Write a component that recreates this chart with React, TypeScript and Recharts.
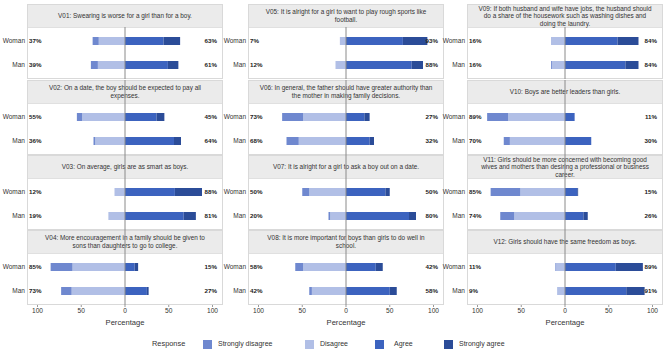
import React from 'react';
import { BarChart, Bar, XAxis, YAxis, ReferenceLine } from 'recharts';

// ---------- data ----------
const categories = ['Woman', 'Man'];

const questions = [
  'V01: Swearing is worse for a girl than for a boy.',
  'V02: On a date, the boy should be expected to pay all\nexpenses.',
  'V03: On average, girls are as smart as boys.',
  'V04: More encouragement in a family should be given to\nsons than daughters to go to college.',
  'V05: It is alright for a girl to want to play rough sports like\nfootball.',
  'V06: In general, the father should have greater authority than\nthe mother in making family decisions.',
  'V07: It is alright for a girl to ask a boy out on a date.',
  'V08: It is more important for boys than girls to do well in\nschool.',
  'V09: If both husband and wife have jobs, the husband should\ndo a share of the housework such as washing dishes and\ndoing the laundry.',
  'V10: Boys are better leaders than girls.',
  'V11: Girls should be more concerned with becoming good\nwives and mothers than desiring a professional or business\ncareer.',
  'V12: Girls should have the same freedom as boys.',
];

// values per question: [Woman, Man]
const stronglyDisagree = [
  [7, 8], [6, 2], [0, 0], [25, 12],
  [0, 0], [24, 14], [8, 2], [9, 3],
  [0, 1], [24, 7], [34, 16], [1, 0],
];
const disagree = [
  [30, 31], [49, 34], [12, 19], [60, 61],
  [7, 12], [49, 54], [42, 18], [49, 39],
  [16, 15], [65, 63], [51, 58], [10, 9],
];
const agree = [
  [44, 49], [36, 56], [57, 67], [11, 25],
  [65, 75], [21, 27], [45, 72], [34, 50],
  [60, 69], [11, 30], [14, 21], [58, 70],
];
const stronglyAgree = [
  [19, 12], [9, 8], [31, 14], [4, 2],
  [28, 13], [6, 5], [5, 8], [8, 8],
  [24, 15], [0, 0], [1, 5], [31, 21],
];

const xTicks = [-100, -50, 0, 50, 100];
const responses = ['Strongly disagree', 'Disagree', 'Agree', 'Strongly agree'];
const responseColors = ['#6f88cf', '#b1bfe6', '#3c63bf', '#2b4c98'];

// ---------- layout ----------
const COL_X = [27, 248, 467];
const ROW_TOP = [4, 80, 155, 230];
const PLOT_W = 196;
const YLAB_W = 27;
const HEADER_H = 23;
const PLOT_H = 52;
const AXIS_H = 30;
const FONT = '"Liberation Sans", Arial, Helvetica, sans-serif';

type Row = { sex: string; sd: number; d: number; a: number; sa: number; neg: number; pos: number };

function panelRows(i: number): Row[] {
  return categories.map((c, j) => ({
    sex: c,
    sd: -stronglyDisagree[i][j],
    d: -disagree[i][j],
    a: agree[i][j],
    sa: stronglyAgree[i][j],
    neg: stronglyDisagree[i][j] + disagree[i][j],
    pos: agree[i][j] + stronglyAgree[i][j],
  }));
}

const LeftTick = (rows: Row[]) => (props: any) => {
  const { x, y, payload, index } = props;
  return (
    <g>
      <text x={x} y={y} dy="0.35em" textAnchor="end" fontSize={6.5} fill="#333">
        {payload.value}
      </text>
      <text x={x + 4} y={y} dy="0.35em" textAnchor="start" fontSize={6.2} fontWeight="bold" fill="#222">
        {rows[index] ? rows[index].neg : ''}%
      </text>
    </g>
  );
};

const RightTick = (rows: Row[]) => (props: any) => {
  const { x, y, index } = props;
  return (
    <text x={x} y={y} dy="0.35em" textAnchor="end" fontSize={6.2} fontWeight="bold" fill="#222">
      {rows[index] ? rows[index].pos : ''}%
    </text>
  );
};

const ZeroLine = (ext: number) => (props: any) => {
  const top = Math.min(props.y1, props.y2) - ext;
  const bottom = Math.max(props.y1, props.y2);
  return <line x1={props.x1} x2={props.x2} y1={top} y2={bottom} stroke="#8a8a8a" strokeWidth={1} />;
};

function Panel({ index }: { index: number }) {
  const col = Math.floor(index / 4);
  const row = index % 4;
  const rows = panelRows(index);
  const isBottom = row === 3;
  const left = COL_X[col];
  const top = ROW_TOP[row];
  const chartH = HEADER_H + PLOT_H + (isBottom ? AXIS_H : 0);
  return (
    <>
      <div
        style={{
          position: 'absolute',
          left,
          top,
          width: PLOT_W,
          height: HEADER_H + PLOT_H,
          boxSizing: 'border-box',
          border: '1px solid #d9d9d9',
          background: '#fff',
        }}
      >
        <div
          style={{
            height: HEADER_H - 1,
            background: '#ebebeb',
            display: 'flex',
            alignItems: 'center',
            justifyContent: 'center',
            textAlign: 'center',
            whiteSpace: 'pre-line',
            fontSize: 6.4,
            lineHeight: '7.6px',
            color: '#333',
            borderBottom: '1px solid #e0e0e0',
          }}
        >
          {questions[index]}
        </div>
      </div>
      <div style={{ position: 'absolute', left: left - YLAB_W, top }}>
        <BarChart
          width={YLAB_W + PLOT_W}
          height={chartH}
          data={rows}
          layout="vertical"
          stackOffset="sign"
          margin={{ top: HEADER_H, right: 0, bottom: 0, left: 0 }}
          barSize={8}
        >
          <XAxis
            type="number"
            domain={[-112, 112]}
            ticks={xTicks}
            hide={!isBottom}
            height={AXIS_H}
            axisLine={false}
            tickLine={{ stroke: '#999' }}
            tickSize={2}
            tickMargin={1}
            tick={{ fontSize: 6.6, fill: '#333' }}
            tickFormatter={(v: number) => String(Math.abs(v))}
            label={isBottom ? { value: 'Percentage', position: 'insideBottom', offset: 10, fontSize: 7.6, fill: '#333' } : undefined}
          />
          <YAxis
            yAxisId="cat"
            type="category"
            dataKey="sex"
            width={YLAB_W}
            axisLine={false}
            tickLine={false}
            tickSize={0}
            tickMargin={2}
            padding={{ top: 2, bottom: 2 }}
            tick={LeftTick(rows)}
          />
          <YAxis
            yAxisId="right"
            type="category"
            dataKey="sex"
            orientation="right"
            mirror
            axisLine={false}
            tickLine={false}
            tickSize={0}
            tickMargin={6}
            padding={{ top: 2, bottom: 2 }}
            tick={RightTick(rows)}
          />
          <Bar yAxisId="cat" dataKey="d" stackId="s" fill={responseColors[1]} isAnimationActive={false} />
          <Bar yAxisId="cat" dataKey="sd" stackId="s" fill={responseColors[0]} isAnimationActive={false} />
          <Bar yAxisId="cat" dataKey="a" stackId="s" fill={responseColors[2]} isAnimationActive={false} />
          <Bar yAxisId="cat" dataKey="sa" stackId="s" fill={responseColors[3]} isAnimationActive={false} />
          <ReferenceLine yAxisId="cat" x={0} shape={ZeroLine(row === 0 ? 0 : HEADER_H + 1)} />
        </BarChart>
      </div>
    </>
  );
}

const LEGEND_BOX_X = [203, 305, 375, 444];

export default function App() {
  return (
    <div
      style={{
        position: 'absolute',
        left: 0,
        top: 0,
        width: 669,
        height: 355,
        background: '#fff',
        fontFamily: FONT,
        overflow: 'hidden',
      }}
    >
      {questions.map((_, i) => (
        <Panel key={i} index={i} />
      ))}
      <div style={{ position: 'absolute', left: 152, top: 339, fontSize: 7.4, color: '#333', lineHeight: '10px' }}>
        Response
      </div>
      {responses.map((r, k) => (
        <div
          key={r}
          style={{
            position: 'absolute',
            left: LEGEND_BOX_X[k],
            top: 339,
            display: 'flex',
            alignItems: 'center',
            fontSize: 7,
            color: '#333',
            lineHeight: '10px',
            whiteSpace: 'nowrap',
          }}
        >
          <span style={{ display: 'inline-block', width: 9, height: 9, background: responseColors[k], marginRight: k === 2 ? 10 : 6 }} />
          {r}
        </div>
      ))}
    </div>
  );
}
